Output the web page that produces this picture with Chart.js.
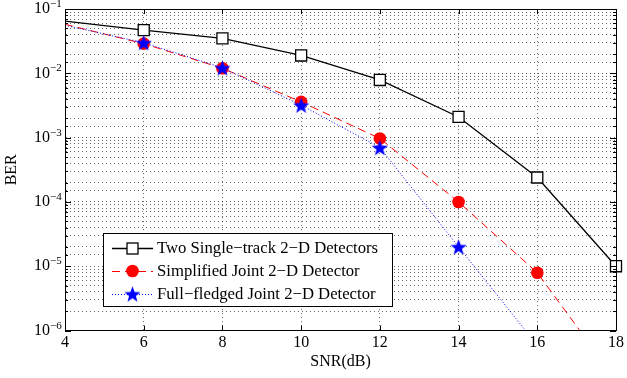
<!DOCTYPE html>
<html>
<head>
<meta charset="utf-8">
<script src="https://cdn.jsdelivr.net/npm/chart.js@4.4.0/dist/chart.umd.min.js"></script>
<style>
  html, body { margin: 0; padding: 0; background: #fff; }
  #wrap { width: 627px; height: 378px; }
</style>
</head>
<body>
<div id="wrap"><canvas id="berChart" width="627" height="378"></canvas></div>
<script>
// data
const snr = [4, 6, 8, 10, 12, 14, 16, 18];
const berTwoSingle = [0.065, 0.047, 0.035, 0.019, 0.0079, 0.0021, 0.00024, 0.00001];

const snrSimplified = [4, 6, 8, 10, 12, 14, 16, 17.08];
const berSimplified = [0.058, 0.029, 0.012, 0.0036, 0.00097, 0.0001, 0.0000079, 0.000001];

const snrFull = [4, 6, 8, 10, 12, 14, 15.7];
const berFull = [0.056, 0.03, 0.0122, 0.0032, 0.0007, 0.00002, 0.000001];

const seriesNames = [
  'Two Single\u2212track 2\u2212D Detectors',
  'Simplified Joint 2\u2212D Detector',
  'Full\u2212fledged Joint 2\u2212D Detector'
];
const xTickValues = [4, 6, 8, 10, 12, 14, 16, 18];
const yDecades = [-6, -5, -4, -3, -2, -1];

const SERIF = '"Liberation Serif", "Times New Roman", serif';

function toPoints(xs, ys) {
  return xs.map((x, i) => ({ x: x, y: ys[i] }));
}

// markers only where the figure has them (not on the line ends)
function markerRadii(n, r) {
  return Array.from({ length: n }, (_, i) => (i === 0 || i === n - 1) ? 0 : r);
}

function makeStar(size, color) {
  const c = document.createElement('canvas');
  c.width = size; c.height = size;
  const g = c.getContext('2d');
  const cx = size / 2, cy = size / 2 + 0.8;
  const R = size / 2, r = R * 0.42;
  g.beginPath();
  for (let i = 0; i < 10; i++) {
    const a = -Math.PI / 2 + i * Math.PI / 5;
    const rad = i % 2 ? r : R;
    const px = cx + rad * Math.cos(a), py = cy + rad * Math.sin(a);
    if (i === 0) g.moveTo(px, py); else g.lineTo(px, py);
  }
  g.closePath();
  g.fillStyle = color;
  g.fill();
  return c;
}
const starImg = makeStar(17, '#0000ff');

// box, inner tick marks, custom y labels and legend
const matlabLook = {
  id: 'matlabLook',
  afterDraw(chart) {
    const ctx = chart.ctx;
    const a = chart.chartArea;
    const xs = chart.scales.x, ys = chart.scales.y;
    ctx.save();
    ctx.strokeStyle = '#000';
    ctx.lineWidth = 1;
    ctx.setLineDash([]);
    ctx.strokeRect(Math.round(a.left) + 0.5, Math.round(a.top) + 0.5,
      Math.round(a.right - a.left), Math.round(a.bottom - a.top));

    ctx.beginPath();
    xTickValues.forEach(v => {
      const px = Math.round(xs.getPixelForValue(v)) + 0.5;
      ctx.moveTo(px, a.bottom); ctx.lineTo(px, a.bottom - 5);
      ctx.moveTo(px, a.top); ctx.lineTo(px, a.top + 5);
    });
    ys.ticks.forEach(t => {
      const py = Math.round(ys.getPixelForValue(t.value)) + 0.5;
      const major = Math.abs(Math.log10(t.value) - Math.round(Math.log10(t.value))) < 1e-6;
      const len = major ? 6 : 3;
      ctx.moveTo(a.left, py); ctx.lineTo(a.left + len, py);
      ctx.moveTo(a.right, py); ctx.lineTo(a.right - len, py);
    });
    ctx.stroke();

    // y labels 10^n
    ctx.fillStyle = '#000';
    yDecades.forEach(p => {
      const py = ys.getPixelForValue(Math.pow(10, p));
      ctx.font = '16px ' + SERIF;
      ctx.textAlign = 'right';
      ctx.textBaseline = 'middle';
      ctx.fillText('10', 50, py);
      ctx.font = '11px ' + SERIF;
      ctx.textAlign = 'left';
      ctx.textBaseline = 'alphabetic';
      ctx.fillText('\u2212' + Math.abs(p), 50, py - 2);
    });

    // legend
    const lx = 103.5, ly = 233.5, lw = 289, lh = 73;
    ctx.fillStyle = '#fff';
    ctx.fillRect(lx, ly, lw, lh);
    ctx.strokeStyle = '#000';
    ctx.lineWidth = 1;
    ctx.strokeRect(lx, ly, lw, lh);
    const rows = [248, 271, 294];
    const styles = [
      { color: '#000', dash: [], width: 1.3, marker: 'square' },
      { color: '#ff0000', dash: [8, 5], width: 1, marker: 'circle' },
      { color: '#0000ff', dash: [1, 2], width: 1, marker: 'star' }
    ];
    rows.forEach((ry, i) => {
      const s = styles[i];
      ctx.strokeStyle = s.color;
      ctx.lineWidth = s.width;
      ctx.setLineDash(s.dash);
      ctx.beginPath();
      ctx.moveTo(112, ry + 0.5); ctx.lineTo(153, ry + 0.5);
      ctx.stroke();
      ctx.setLineDash([]);
      const mx = 132.5;
      if (s.marker === 'square') {
        ctx.fillStyle = '#fff';
        ctx.fillRect(mx - 5.5, ry - 5, 11, 11);
        ctx.strokeStyle = '#000';
        ctx.lineWidth = 1.3;
        ctx.strokeRect(mx - 5.5, ry - 5, 11, 11);
      } else if (s.marker === 'circle') {
        ctx.fillStyle = '#ff0000';
        ctx.beginPath();
        ctx.arc(mx, ry, 6.3, 0, Math.PI * 2);
        ctx.fill();
      } else {
        ctx.drawImage(starImg, mx - 8.5, ry - 8.5);
      }
      ctx.fillStyle = '#000';
      ctx.font = '16.7px ' + SERIF;
      ctx.textAlign = 'left';
      ctx.textBaseline = 'middle';
      ctx.fillText(seriesNames[i], 157, ry + 1);
    });
    ctx.restore();
  }
};

const ctx = document.getElementById('berChart').getContext('2d');
new Chart(ctx, {
  type: 'line',
  data: {
    datasets: [
      {
        label: seriesNames[2],
        data: toPoints(snrFull, berFull),
        borderColor: '#0000ff',
        borderWidth: 1,
        borderDash: [1, 2],
        pointStyle: starImg,
        pointRadius: markerRadii(snrFull.length, 8),
        tension: 0
      },
      {
        label: seriesNames[1],
        data: toPoints(snrSimplified, berSimplified),
        borderColor: '#ff0000',
        borderWidth: 1,
        borderDash: [8, 5],
        pointStyle: 'circle',
        pointRadius: markerRadii(snrSimplified.length, 6.3),
        pointBackgroundColor: '#ff0000',
        pointBorderWidth: 0,
        tension: 0
      },
      {
        label: seriesNames[0],
        data: toPoints(snr, berTwoSingle),
        borderColor: '#000',
        borderWidth: 1.3,
        pointStyle: 'rect',
        pointRadius: snr.map((x, i) => i === 0 ? 0 : 7.8),
        pointBackgroundColor: '#fff',
        pointBorderColor: '#000',
        pointBorderWidth: 1.3,
        tension: 0,
        clip: false
      }
    ]
  },
  options: {
    responsive: false,
    animation: false,
    events: [],
    layout: { padding: { top: 8, right: 9, left: 0, bottom: 0 } },
    plugins: {
      legend: { display: false },
      tooltip: { enabled: false }
    },
    scales: {
      x: {
        type: 'linear',
        min: 4,
        max: 18,
        afterFit: s => { s.height = 47.5; },
        ticks: {
          stepSize: 2,
          padding: 3,
          color: '#000',
          font: { family: SERIF, size: 16 }
        },
        grid: { color: 'rgba(0,0,0,0.6)', lineWidth: 1, drawTicks: false },
        border: { display: true, color: '#000', dash: [1, 3] },
        title: {
          display: true,
          text: 'SNR(dB)',
          color: '#000',
          font: { family: SERIF, size: 16 },
          padding: { top: 0, bottom: 7 }
        }
      },
      y: {
        type: 'logarithmic',
        min: 1e-6,
        max: 1e-1,
        afterFit: s => { s.width = 65; },
        ticks: { display: false, autoSkip: false },
        grid: { color: 'rgba(0,0,0,0.6)', lineWidth: 1, drawTicks: false },
        border: { display: true, color: '#000', dash: [1, 3] },
        title: {
          display: true,
          text: 'BER',
          color: '#000',
          font: { family: SERIF, size: 16 },
          padding: { top: 2, bottom: 0 }
        }
      }
    }
  },
  plugins: [matlabLook]
});
</script>
</body>
</html>
